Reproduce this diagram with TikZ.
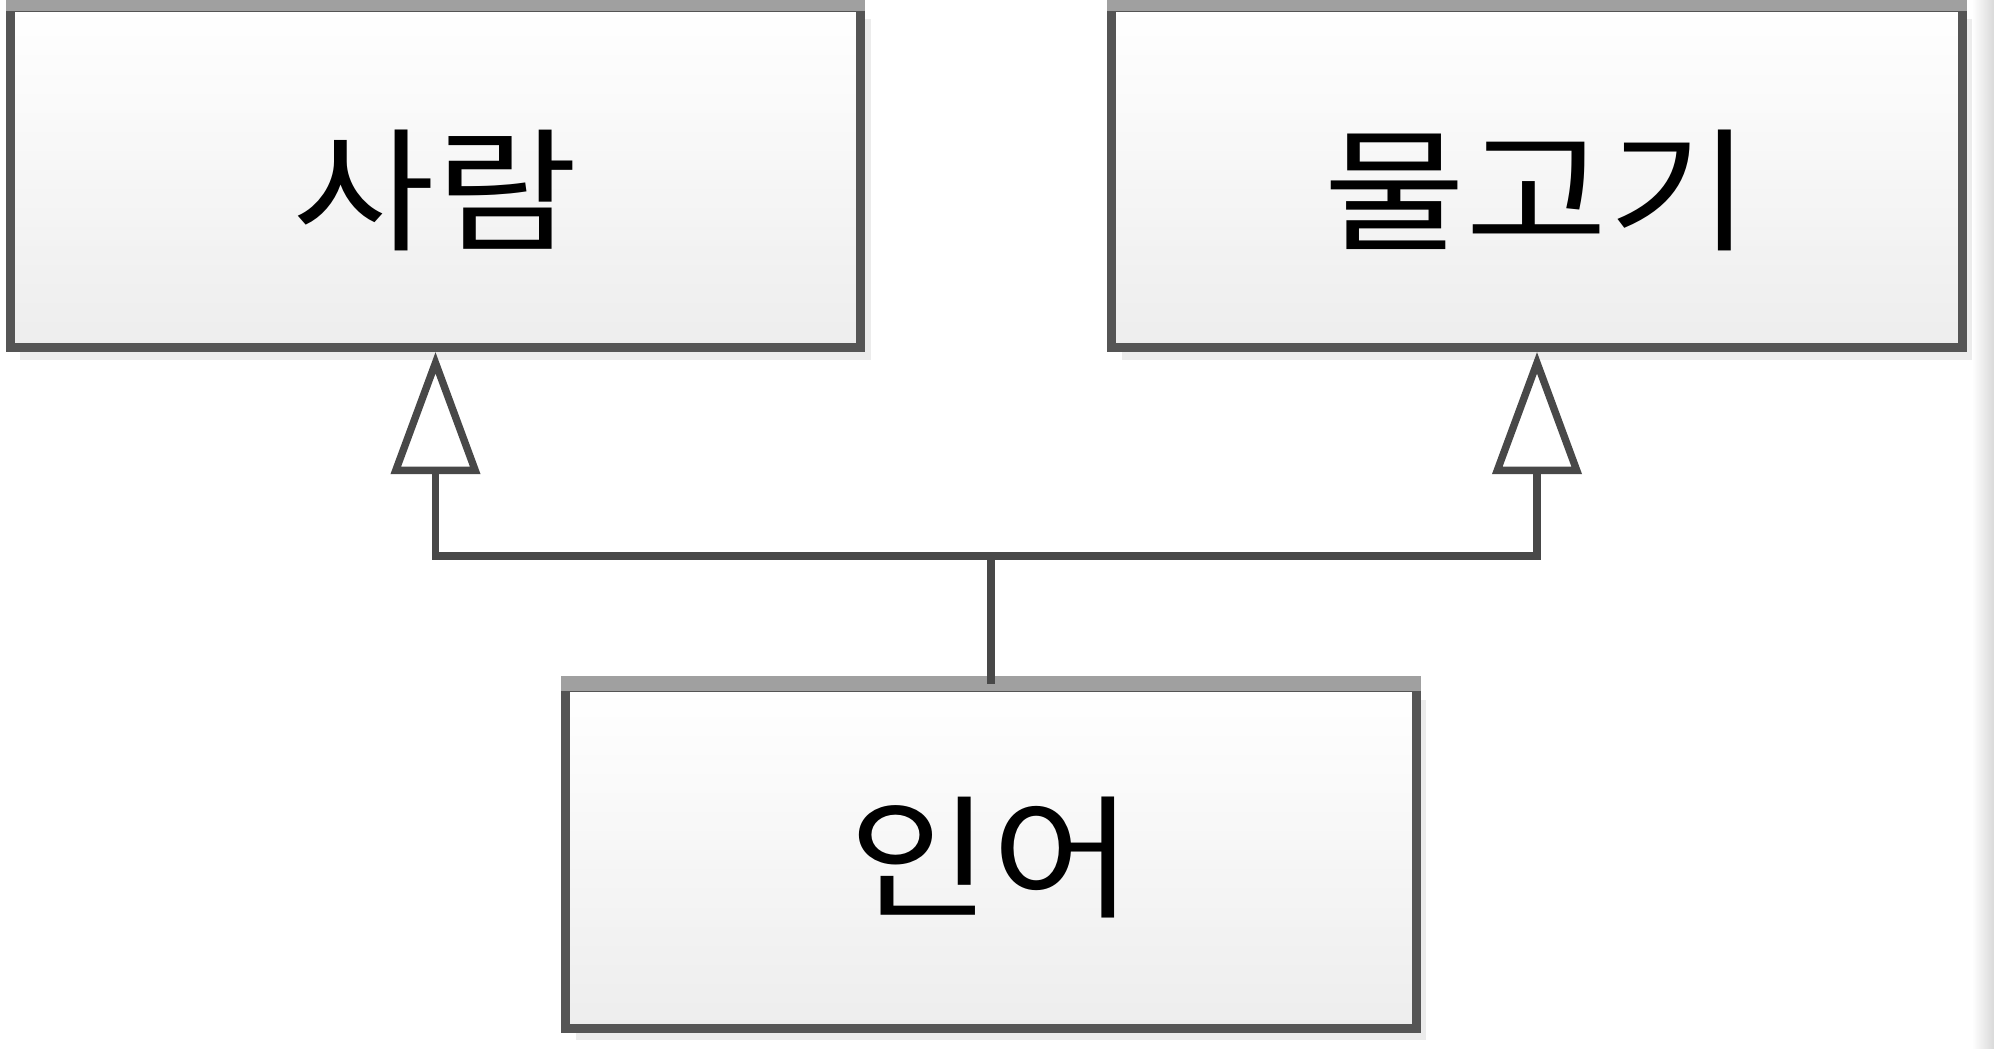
\documentclass[tikz,border=0pt]{standalone}
\usepackage{fontspec}
\newfontfamily\kofont{Noto Sans CJK KR}[FakeStretch=1.16]
\usetikzlibrary{arrows.meta,shadows}
\definecolor{boxline}{HTML}{555555}
\definecolor{boxtop}{HTML}{A0A0A0}
\definecolor{linkline}{HTML}{484848}

\begin{document}
\begin{tikzpicture}[x=0.01cm,y=-0.01cm,
  class node/.style={rectangle,draw=boxline,line width=2.5pt,top color=white,bottom color=black!7,minimum width=8.5cm,minimum height=3.4cm,font=\kofont\fontsize{38}{46}\selectfont,drop shadow={shadow xshift=0.1cm,shadow yshift=-0.12cm,opacity=0.15}},
  top band/.style={boxtop,line width=4.5pt},
  inherit/.style={draw=linkline,line width=2.1pt,-{Triangle[open,length=1.22cm,width=0.88cm]}}]
  \useasboundingbox (0,0) rectangle (1994,1048);
  \shade[left color=white,right color=black!15] (1972,0) rectangle (1994,1048);

  \node[class node,text height=1.32cm,text depth=0.07cm] (person) at (435.5,177.5) {사람};
  \node[class node,text height=1.32cm,text depth=0.07cm] (fish) at (1537,177.5) {물고기};
  \node[class node] (mermaid) at (991,858) {인어};

  \foreach \n in {person,fish,mermaid}
    \draw[top band] (\n.north west) -- (\n.north east);

  \coordinate (split) at (991,556);
  \path [draw=linkline,line width=2.1pt] (mermaid.north) -- (split);
  \path [inherit] (split) -| (person.south);
  \path [inherit] (split) -| (fish.south);
\end{tikzpicture}
\end{document}
